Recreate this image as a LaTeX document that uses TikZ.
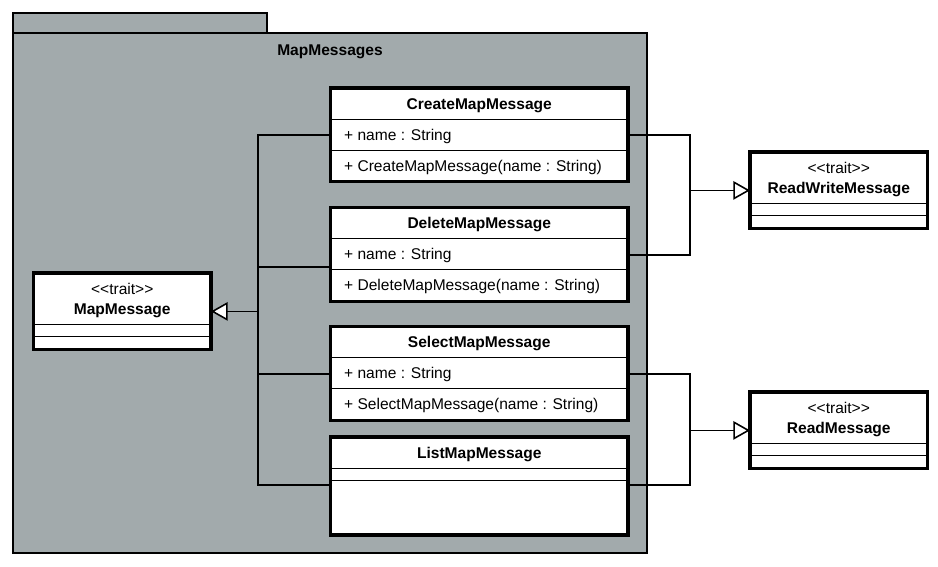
\documentclass[tikz,border=0pt]{standalone}
\usepackage{fontspec}
\setmainfont{Liberation Sans}
\usepackage{tikz}
\usetikzlibrary{arrows.meta,positioning,shapes}

\definecolor{pkggray}{RGB}{162,170,172}
\newcommand{\stereo}[1]{<\kern0pt<#1>\kern0pt>}
\newcommand{\row}{\rule[-4.4pt]{0pt}{15pt}}
\newcommand{\blank}{\rule{0pt}{4.4pt}}

\begin{document}
\begin{tikzpicture}[
            x=0.02cm,y=-0.02cm,
            font=\fontsize{8.85}{11.3}\selectfont,
            pkg/.style={draw,line width=1.6pt,fill=pkggray},
            umlclass/.style={rectangle split,rectangle split parts=3,draw,line width=0.6pt,fill=white,
              rectangle split part align={center,left,left},inner xsep=7.5pt,inner ysep=1pt,
              rectangle split empty part height=0pt,rectangle split empty part depth=0pt,
              minimum width=5.93cm,anchor=north west},
            umltrait/.style={umlclass,minimum width=3.53cm,align=center},
            border/.style={draw,line width=1.8pt},
            assoc/.style={draw,line width=0.6pt},
            inherit/.style={draw,line width=0.9pt,-{Triangle[length=9.5pt,width=10.5pt,fill=white]}}
          ]
          \useasboundingbox (0,0) rectangle (938,566);

          %package
          \draw[pkg] (13,13) rectangle (267,33);
          \draw[pkg] (13,33) rectangle (647,553);
          \node[font=\fontsize{8.85}{11.3}\selectfont\bfseries] (pkgtitle) at (330,51.5) {MapMessages};

          %classes
          \node[umlclass] (create) at (330.5,88) {\textbf{\row CreateMapMessage}
            \nodepart{two}\row + name : String
            \nodepart{three}\row + CreateMapMessage(name : String)};
          \node[umlclass] (delete) at (330.5,207.5) {\textbf{\row DeleteMapMessage}
            \nodepart{two}\row + name : String
            \nodepart{three}\row + DeleteMapMessage(name : String)};
          \node[umlclass] (select) at (330.5,326.5) {\textbf{\row SelectMapMessage}
            \nodepart{two}\row + name : String
            \nodepart{three}\row + SelectMapMessage(name : String)};
          \node[umlclass] (list) at (330.5,437) {\textbf{\row ListMapMessage}\nodepart{two}\blank\nodepart{three}\rule{0pt}{28pt}};

          %traits
          \node[umltrait] (mapmsg) at (33.5,273) {\rule{0pt}{10.8pt}\stereo{trait}\\\rule[-4.4pt]{0pt}{4.4pt}\textbf{MapMessage}\nodepart{two}\blank\nodepart{three}\blank};
          \node[umltrait] (rwmsg) at (750,152) {\rule{0pt}{10.8pt}\stereo{trait}\\\rule[-4.4pt]{0pt}{4.4pt}\textbf{ReadWriteMessage}\nodepart{two}\blank\nodepart{three}\blank};
          \node[umltrait] (readmsg) at (750,392) {\rule{0pt}{10.8pt}\stereo{trait}\\\rule[-4.4pt]{0pt}{4.4pt}\textbf{ReadMessage}\nodepart{two}\blank\nodepart{three}\blank};

          \foreach \c in {create,delete,select,list,mapmsg,rwmsg,readmsg}
            \draw[border] (\c.north west) rectangle (\c.south east);

          %inheritance
          \coordinate (hub) at (258,0 |- mapmsg.east);
          \coordinate (rwhub) at (690,0 |- rwmsg.west);
          \coordinate (rhub) at (690,0 |- readmsg.west);
          \draw[assoc] (create.west |- 0,135) -| (hub);
          \draw[assoc] (delete.west |- 0,267) -| (hub);
          \draw[assoc] (select.west |- 0,374) -| (hub);
          \draw[assoc] (list.west |- 0,485) -| (hub);
          \draw[assoc] (create.east |- 0,135) -| (rwhub);
          \draw[assoc] (delete.east |- 0,255) -| (rwhub);
          \draw[assoc] (select.east |- 0,374) -| (rhub);
          \draw[assoc] (list.east |- 0,485) -| (rhub);
          \path
          (hub) edge[inherit] (mapmsg.east)
          (rwhub) edge[inherit] (rwmsg.west)
          (rhub) edge[inherit] (readmsg.west)
          ;

      \end{tikzpicture}
\end{document}
